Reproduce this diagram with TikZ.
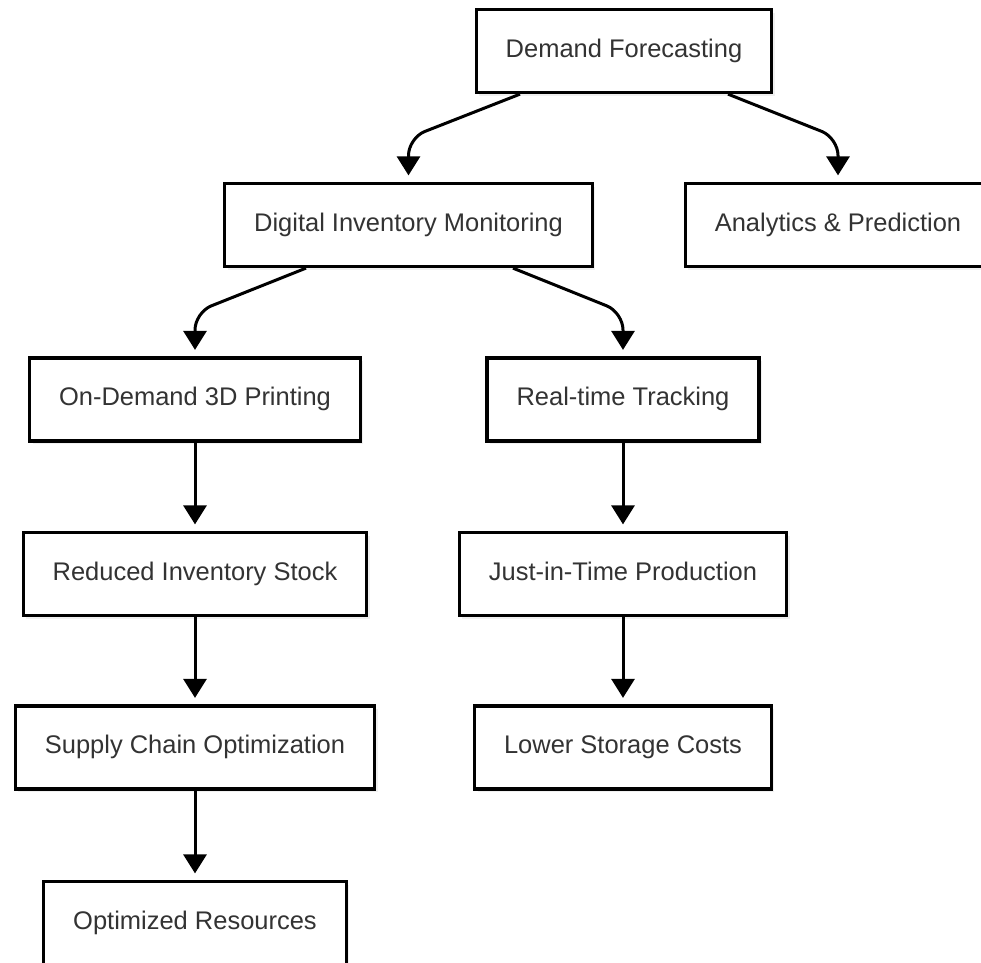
\documentclass[tikz,border=0pt]{standalone}
\usepackage{fontspec}
\setmainfont{Liberation Sans}
\usetikzlibrary{arrows.meta,shadows}
\definecolor{boxtext}{HTML}{333333}

\begin{document}
\begin{tikzpicture}[every node/.style={font=\fontsize{14.5}{17}\selectfont, text=boxtext},
	stage/.style={draw=black, line width=0.065cm, fill=white, inner xsep=0.59cm, minimum height=1.66cm, text height=0.72em, text depth=0pt, drop shadow={shadow xshift=0.06cm, shadow yshift=-0.06cm, opacity=0.12}},
	link/.style={line width=0.06cm, rounded corners=0.35cm, -{Triangle[length=0.38cm,width=0.46cm]}, shorten >=0.13cm}]
	\path[use as bounding box, clip] (0,0) rectangle (19.62,-19.24);
	\node[stage] (forecast) at (12.48,-1.02) {Demand Forecasting};
	\node[stage] (monitor) at (8.17,-4.5) {Digital Inventory Monitoring};
	\node[stage] (analytics) at (16.76,-4.5) {Analytics \& Prediction};
	\node[stage] (printing) at (3.9,-7.99) {On-Demand 3D Printing};
	\node[stage] (tracking) at (12.46,-7.99) {Real-time Tracking};
	\node[stage] (stock) at (3.9,-11.48) {Reduced Inventory Stock};
	\node[stage] (jit) at (12.46,-11.48) {Just-in-Time Production};
	\node[stage] (supply) at (3.9,-14.95) {Supply Chain Optimization};
	\node[stage] (storage) at (12.46,-14.95) {Lower Storage Costs};
	\node[stage] (resources) at (3.9,-18.46) {Optimized Resources};
	\draw[link] ([xshift=-2.08cm]forecast.south) -- ([yshift=0.88cm]monitor.north) -- (monitor.north);
	\draw[link] ([xshift=2.08cm]forecast.south) -- ([yshift=0.88cm]analytics.north) -- (analytics.north);
	\draw[link] ([xshift=-2.05cm]monitor.south) -- ([yshift=0.88cm]printing.north) -- (printing.north);
	\draw[link] ([xshift=2.09cm]monitor.south) -- ([yshift=0.88cm]tracking.north) -- (tracking.north);
	\draw[link] (printing) -- (stock);
	\draw[link] (stock) -- (supply);
	\draw[link] (supply) -- (resources);
	\draw[link] (tracking) -- (jit);
	\draw[link] (jit) -- (storage);
\end{tikzpicture}
\end{document}
